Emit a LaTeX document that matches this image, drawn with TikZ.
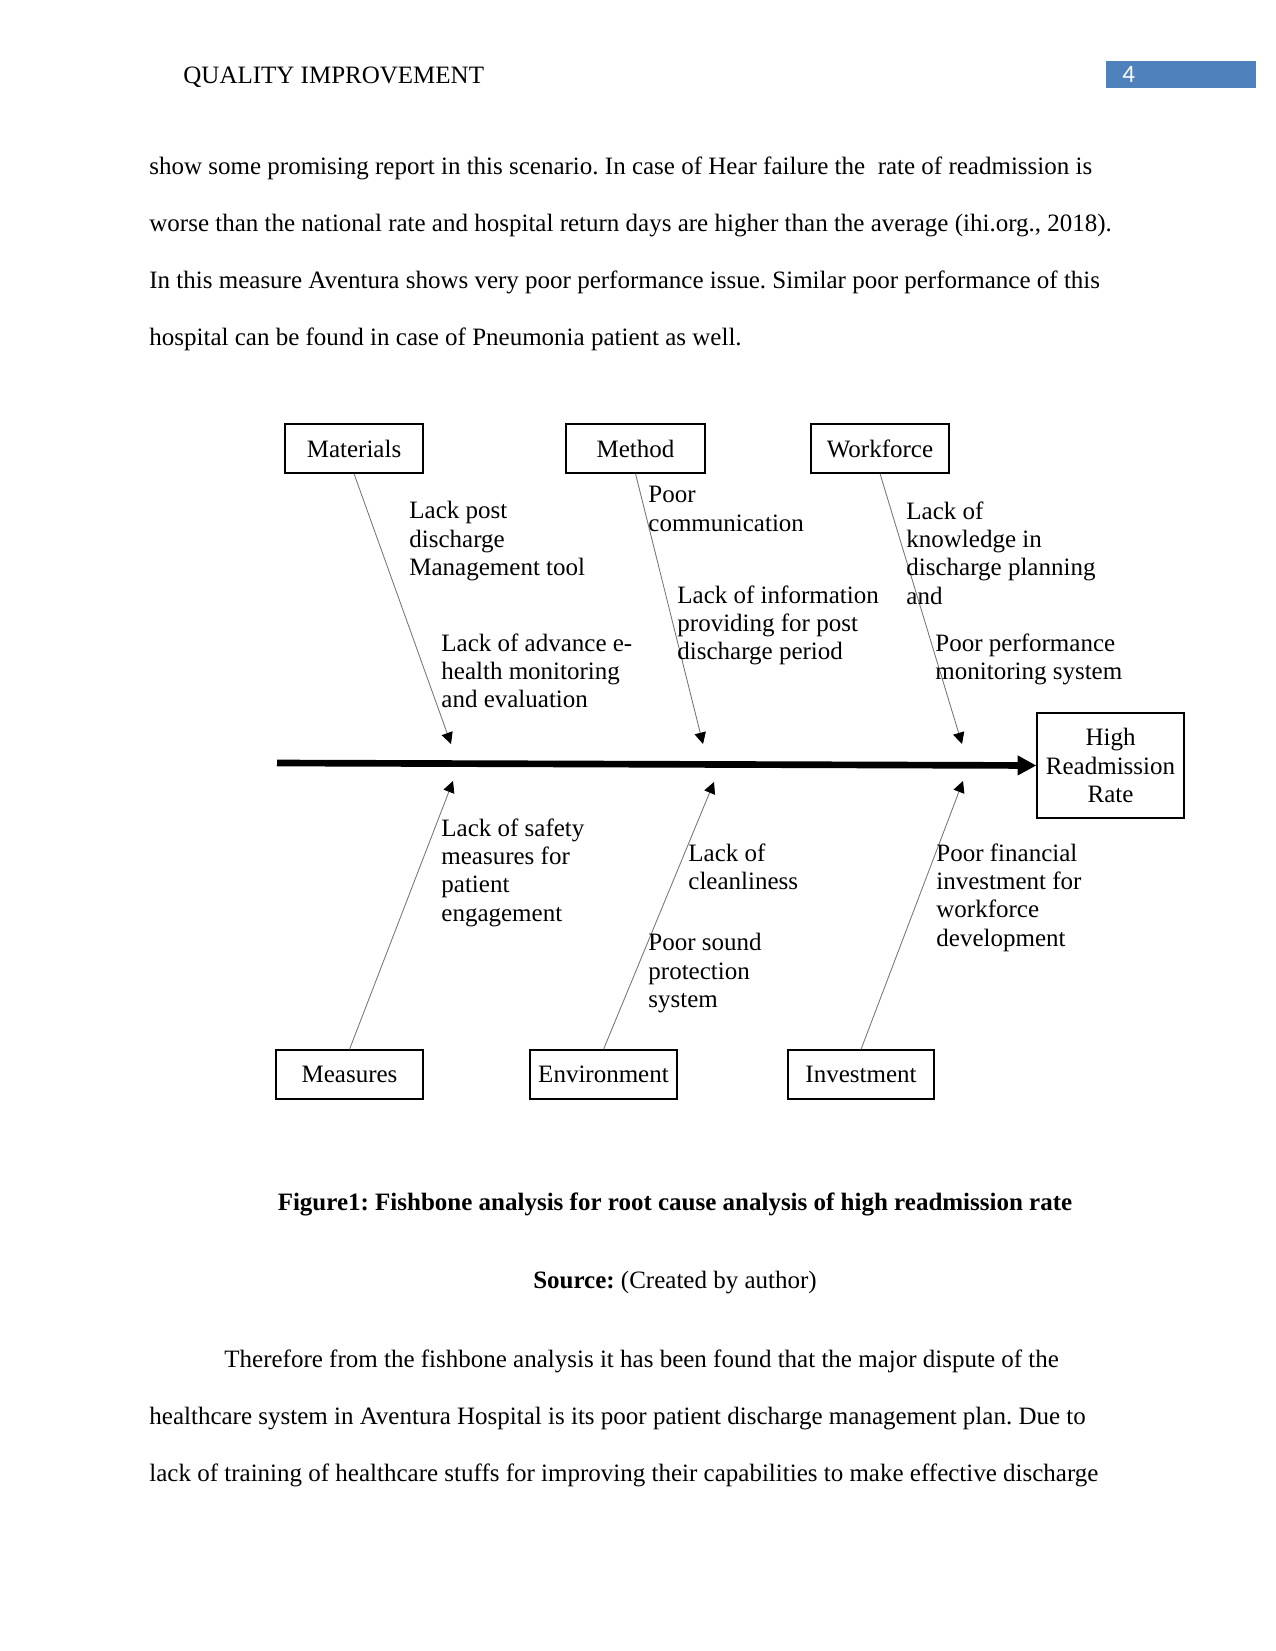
\documentclass[tikz,border=0pt]{standalone}
\usepackage{fontspec}
\setmainfont{Liberation Serif}
\newfontfamily\numfont{Carlito}
\usetikzlibrary{arrows.meta}
\definecolor{hdrblue}{HTML}{4F81BD}
\frenchspacing
\tikzset{
  catbox/.style={draw=black, line width=0.6pt, inner sep=0pt, minimum width={138*0.48pt}, minimum height={49*0.48pt}, font=\fontsize{12}{13.8}\selectfont},
  cause/.style={anchor=north west, inner sep=0pt, align=left, font=\fontsize{12}{13.6}\selectfont},
  body/.style={anchor=base west, inner sep=0pt, font=\fontsize{12}{14}\selectfont},
  centred/.style={anchor=base, inner sep=0pt, font=\fontsize{12}{14}\selectfont},
  bone/.style={draw=black!55, line width=0.4pt, -{Triangle[length=5.5pt,width=5.5pt,color=black]}},
  spine/.style={draw=black, line width=3.2pt, -{Triangle[length=9pt,width=9pt]}},
}
\begin{document}
\frenchspacing
\begin{tikzpicture}[x=0.48pt, y=-0.48pt]
\useasboundingbox (0,0) rectangle (1275,1651);
\fill[white] (0,0) rectangle (1275,1651);

% header
\node[body] (hdr) at (183,84) {QUALITY IMPROVEMENT};
\fill[hdrblue] (1106,61) rectangle (1256,88);
\node[body, text=white, font=\numfont\fontsize{12}{14}\selectfont] (pnum) at (1122,83) {4};

% body text above
\node[body] (p1) at (149,174.5) {show some promising report in this scenario. In case of Hear failure the~ rate of readmission is};
\node[body] (p2) at (149,231.5) {worse than the national rate and hospital return days are higher than the average (ihi.org., 2018).};
\node[body] (p3) at (149,288.5) {In this measure Aventura shows very poor performance issue. Similar poor performance of this};
\node[body] (p4) at (149,345) {hospital can be found in case of Pneumonia patient as well.};

% category boxes
\node[catbox] (materials) at (354,448.5) {Materials};
\node[catbox, minimum width={139*0.48pt}] (method) at (635.5,448.5) {Method};
\node[catbox] (workforce) at (880,448.5) {Workforce};
\node[catbox, minimum width={147*0.48pt}] (measures) at (349.5,1074.5) {Measures};
\node[catbox, minimum width={147*0.48pt}] (environment) at (603.5,1074.5) {Environment};
\node[catbox, minimum width={146*0.48pt}] (investment) at (861,1074.5) {Investment};
\node[catbox, minimum width={147*0.48pt}, minimum height={105*0.48pt}, align=center] (high) at (1110.5,765.5) {High\\Readmission\\Rate};

% spine
\coordinate (tail) at (277,763);
\draw[spine] (tail) -- (high.west);

% bone tips
\coordinate (tmat) at (451,744);
\coordinate (tmet) at (703,744);
\coordinate (twor) at (962,744);
\coordinate (tmea) at (453,781);
\coordinate (tenv) at (714,782);
\coordinate (tinv) at (963,781);

\draw[bone] (materials.south) -- (tmat);
\draw[bone] (method.south) -- (tmet);
\draw[bone] (workforce.south) -- (twor);
\draw[bone] (measures.north) -- (tmea);
\draw[bone] (environment.north) -- (tenv);
\draw[bone] (investment.north) -- (tinv);

% causes
\node[cause] (c1) at (409,501) {Lack post\\discharge\\Management tool};
\node[cause] (c2) at (441,633) {Lack of advance e-\\health monitoring\\and evaluation};
\node[cause] (c3) at (648,486) {Poor\\communication};
\node[cause] (c4) at (677,585) {Lack of information\\providing for post\\discharge period};
\node[cause] (c5) at (906,501) {Lack of\\knowledge in\\discharge planning\\and};
\node[cause] (c6) at (935,633) {Poor performance\\monitoring system};
\node[cause] (c7) at (441,818) {Lack of safety\\measures for\\patient\\engagement};
\node[cause] (c8) at (688,843) {Lack of\\cleanliness};
\node[cause] (c9) at (648,933) {Poor sound\\protection\\system};
\node[cause] (c10) at (936,843) {Poor financial\\investment for\\workforce\\development};

% caption
\node[centred, font=\bfseries\fontsize{12}{14}\selectfont] (cap) at (675,1210) {Figure1: Fishbone analysis for root cause analysis of high readmission rate};
\node[centred] (src) at (675,1288) {\textbf{Source:} (Created by author)};

% body text below
\node[body] (q1) at (224,1367) {Therefore from the fishbone analysis it has been found that the major dispute of the};
\node[body] (q2) at (149,1424) {healthcare system in Aventura Hospital is its poor patient discharge management plan. Due to};
\node[body] (q3) at (149,1481) {lack of training of healthcare stuffs for improving their capabilities to make effective discharge};
\end{tikzpicture}
\end{document}
